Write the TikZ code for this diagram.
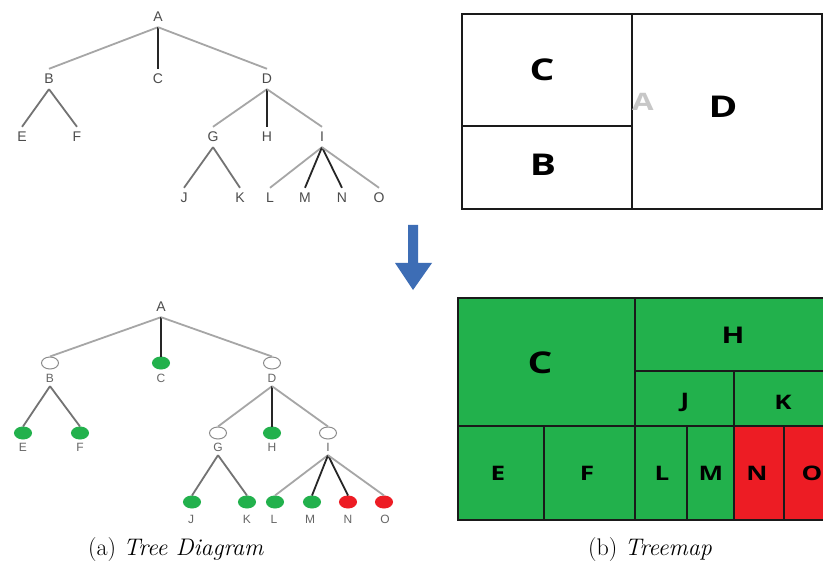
\documentclass[tikz,border=0pt]{standalone}
\usepackage{graphicx}
\usepackage{fontspec}
\newfontfamily\lblfont{Liberation Sans}
\newfontfamily\tmfont{Open Sans}
\usetikzlibrary{shapes.geometric}
\definecolor{tmgreen}{HTML}{22B14C}
\definecolor{tmred}{HTML}{ED1C24}
\definecolor{arrowblue}{HTML}{3D6DB5}
\definecolor{tmline}{HTML}{1A1A1A}
\newcommand{\hstretch}[1]{\scalebox{1.3}[1]{#1}}
\begin{document}
\begin{tikzpicture}[x=1pt,y=-1pt,
  lbl/.style={font=\lblfont\fontsize{14}{14}\selectfont, text=black!70, inner sep=0pt, minimum height=20pt, minimum width=10pt},
  lbltwo/.style={font=\lblfont\fontsize{12}{12}\selectfont, text=black!60, inner sep=0pt, minimum height=16pt, minimum width=9pt},
  dot/.style={ellipse, draw=black!45, line width=1pt, fill=white, minimum width=17pt, minimum height=12pt, inner sep=0pt},
  gdot/.style={dot, fill=tmgreen, draw=tmgreen},
  rdot/.style={dot, fill=tmred, draw=tmred},
  eL/.style={draw=black!35, line width=1.8pt},
  eM/.style={draw=black!55, line width=1.8pt},
  eD/.style={draw=black!85, line width=1.8pt},
  tmbox/.style={draw=tmline, line width=2.6pt},
  tmbig/.style={font=\tmfont\bfseries\fontsize{30}{30}\selectfont, text=black, inner sep=0pt},
  tmmid/.style={font=\tmfont\bfseries\fontsize{23}{23}\selectfont, text=black, inner sep=0pt},
  tmsmall/.style={font=\tmfont\bfseries\fontsize{20}{20}\selectfont, text=black, inner sep=0pt},
  capt/.style={font=\fontsize{24}{29}\selectfont, inner sep=0pt}
]
\useasboundingbox (0,0) rectangle (823,567);
\clip (0,0) rectangle (823,567);
\fill[white] (0,0) rectangle (823,567);

% ---------- top tree ----------
\node[lbl] (tA) at (158,17) {A};
\node[lbl] (tB) at (49,79) {B};
\node[lbl] (tC) at (158,79) {C};
\node[lbl] (tD) at (267,79) {D};
\node[lbl] (tE) at (22,137) {E};
\node[lbl] (tF) at (77,137) {F};
\node[lbl] (tG) at (213,137) {G};
\node[lbl] (tH) at (267,137) {H};
\node[lbl] (tI) at (322,137) {I};
\node[lbl] (tJ) at (184,198) {J};
\node[lbl] (tK) at (240,198) {K};
\node[lbl] (tL) at (270,198) {L};
\node[lbl] (tM) at (305,198) {M};
\node[lbl] (tN) at (342,198) {N};
\node[lbl] (tO) at (379,198) {O};
\draw[eL] (tA.south) -- (tB.north);
\draw[eD] (tA.south) -- (tC.north);
\draw[eL] (tA.south) -- (tD.north);
\draw[eM] (tB.south) -- (tE.north);
\draw[eM] (tB.south) -- (tF.north);
\draw[eL] (tD.south) -- (tG.north);
\draw[eD] (tD.south) -- (tH.north);
\draw[eL] (tD.south) -- (tI.north);
\draw[eM] (tG.south) -- (tJ.north);
\draw[eM] (tG.south) -- (tK.north);
\draw[eL] (tI.south) -- (tL.north);
\draw[eD] (tI.south) -- (tM.north);
\draw[eD] (tI.south) -- (tN.north);
\draw[eL] (tI.south) -- (tO.north);

% ---------- top treemap ----------
\draw[tmbox] (462,14) rectangle (822,209);
\draw[tmbox] (632,14) -- (632,209);
\draw[tmbox] (462,126) -- (632,126);
\node[font=\tmfont\bfseries\fontsize{24}{24}\selectfont, text=black!22, inner sep=0pt] (mA) at (643,102) {\hstretch{A}};
\node[tmbig] (mC) at (542,70) {\hstretch{C}};
\node[tmbig] (mB) at (543,165) {\hstretch{B}};
\node[tmbig] (mD) at (723,107) {\hstretch{D}};

% ---------- arrow ----------
\fill[arrowblue] (408,225) -- (418,225) -- (418,263) -- (432,263) -- (413,290) -- (395,263) -- (408,263) -- cycle;

% ---------- bottom tree ----------
\node[lbl] (bA) at (161,307) {A};
\node[dot]  (cB) at (50,363) {};  \node[lbltwo] (bB) at (50,378) {B};
\node[gdot] (cC) at (161,363) {}; \node[lbltwo] (bC) at (161,378) {C};
\node[dot]  (cD) at (272,363) {}; \node[lbltwo] (bD) at (272,378) {D};
\node[gdot] (cE) at (23,433) {};  \node[lbltwo] (bE) at (23,447) {E};
\node[gdot] (cF) at (80,433) {};  \node[lbltwo] (bF) at (80,447) {F};
\node[dot]  (cG) at (218,433) {}; \node[lbltwo] (bG) at (218,447) {G};
\node[gdot] (cH) at (272,433) {}; \node[lbltwo] (bH) at (272,447) {H};
\node[dot]  (cI) at (328,433) {}; \node[lbltwo] (bI) at (328,447) {I};
\node[gdot] (cJ) at (192,502) {}; \node[lbltwo] (bJ) at (191,519) {J};
\node[gdot] (cK) at (247,502) {}; \node[lbltwo] (bK) at (247,519) {K};
\node[gdot] (cL) at (275,502) {}; \node[lbltwo] (bL) at (274,519) {L};
\node[gdot] (cM) at (312,502) {}; \node[lbltwo] (bM) at (310,519) {M};
\node[rdot] (cN) at (348,502) {}; \node[lbltwo] (bN) at (348,519) {N};
\node[rdot] (cO) at (384,502) {}; \node[lbltwo] (bO) at (385,519) {O};
\draw[eL] (bA.south) -- (cB.north);
\draw[eD] (bA.south) -- (cC.north);
\draw[eL] (bA.south) -- (cD.north);
\draw[eM] (bB.south) -- (cE.north);
\draw[eM] (bB.south) -- (cF.north);
\draw[eL] (bD.south) -- (cG.north);
\draw[eD] (bD.south) -- (cH.north);
\draw[eL] (bD.south) -- (cI.north);
\draw[eM] (bG.south) -- (cJ.north);
\draw[eM] (bG.south) -- (cK.north);
\draw[eL] (bI.south) -- (cL.north);
\draw[eD] (bI.south) -- (cM.north);
\draw[eD] (bI.south) -- (cN.north);
\draw[eL] (bI.south) -- (cO.north);
\node[capt] (capA) at (176,550) {(a) \textit{Tree Diagram}};

% ---------- bottom treemap ----------
\draw[tmbox, fill=tmgreen] (458,298) rectangle (635,426);
\draw[tmbox, fill=tmgreen] (458,426) rectangle (544,520);
\draw[tmbox, fill=tmgreen] (544,426) rectangle (635,520);
\draw[tmbox, fill=tmgreen] (635,298) rectangle (834,371);
\draw[tmbox, fill=tmgreen] (635,371) rectangle (734,426);
\draw[tmbox, fill=tmgreen] (734,371) rectangle (834,426);
\draw[tmbox, fill=tmgreen] (635,426) rectangle (687,520);
\draw[tmbox, fill=tmgreen] (687,426) rectangle (734,520);
\draw[tmbox, fill=tmred] (734,426) rectangle (784,520);
\draw[tmbox, fill=tmred] (784,426) rectangle (834,520);
\node[tmbig] (gC) at (540,363) {\hstretch{C}};
\node[tmmid] (gH) at (733,335) {\hstretch{H}};
\node[tmsmall] (gJ) at (685,402) {\hstretch{J}};
\node[tmsmall] (gK) at (783,402) {\hstretch{K}};
\node[tmsmall] (gE) at (498,473) {\hstretch{E}};
\node[tmsmall] (gF) at (587,473) {\hstretch{F}};
\node[tmsmall] (gL) at (662,473) {\hstretch{L}};
\node[tmsmall] (gM) at (711,473) {\hstretch{M}};
\node[tmsmall] (gN) at (757,473) {\hstretch{N}};
\node[tmsmall] (gO) at (812,473) {\hstretch{O}};
\node[capt] (capB) at (650,550) {(b) \textit{Treemap}};
\end{tikzpicture}
\end{document}
